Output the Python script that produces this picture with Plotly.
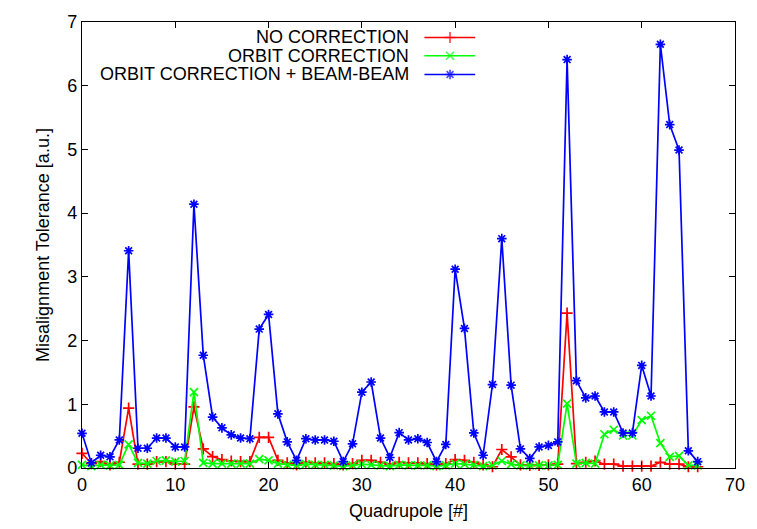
import plotly.graph_objects as go

quadrupole = list(range(67))

no_correction = [
    0.23, 0.07, 0.10, 0.05, 0.09, 0.94, 0.06, 0.06, 0.10, 0.10,
    0.06, 0.06, 0.96, 0.30, 0.18, 0.13, 0.11, 0.10, 0.10, 0.48,
    0.48, 0.12, 0.08, 0.05, 0.09, 0.08, 0.08, 0.07, 0.05, 0.07,
    0.12, 0.12, 0.09, 0.06, 0.09, 0.08, 0.08, 0.07, 0.05, 0.07,
    0.13, 0.12, 0.09, 0.05, 0.02, 0.29, 0.175, 0.05, 0.04, 0.04,
    0.05, 0.06, 2.43, 0.07, 0.09, 0.11, 0.06, 0.06, 0.03, 0.03,
    0.03, 0.03, 0.09, 0.06, 0.06, 0.02, 0.02,
]

orbit_correction = [
    0.05, 0.03, 0.05, 0.04, 0.05, 0.37, 0.08, 0.07, 0.11, 0.12,
    0.10, 0.11, 1.19, 0.08, 0.07, 0.07, 0.07, 0.07, 0.07, 0.14,
    0.12, 0.07, 0.05, 0.04, 0.06, 0.05, 0.05, 0.04, 0.03, 0.04,
    0.06, 0.05, 0.04, 0.03, 0.05, 0.04, 0.04, 0.04, 0.03, 0.04,
    0.07, 0.06, 0.05, 0.03, 0.04, 0.11, 0.06, 0.04, 0.04, 0.04,
    0.04, 0.05, 1.01, 0.07, 0.08, 0.07, 0.53, 0.60, 0.51, 0.51,
    0.75, 0.82, 0.39, 0.175, 0.19, 0.04, 0.04,
]

orbit_beam_beam = [
    0.545, 0.08, 0.20, 0.175, 0.44, 3.41, 0.31, 0.31, 0.47, 0.47,
    0.33, 0.33, 4.14, 1.77, 0.80, 0.63, 0.52, 0.47, 0.46, 2.18,
    2.41, 0.85, 0.41, 0.12, 0.46, 0.44, 0.44, 0.42, 0.10, 0.38,
    1.19, 1.35, 0.47, 0.165, 0.555, 0.44, 0.46, 0.40, 0.10, 0.37,
    3.12, 2.19, 0.55, 0.20, 1.31, 3.60, 1.30, 0.30, 0.15, 0.33,
    0.355, 0.41, 6.41, 1.37, 1.10, 1.13, 0.88, 0.88, 0.55, 0.55,
    1.61, 1.13, 6.65, 5.39, 4.99, 0.27, 0.10,
]

series_names = ["NO CORRECTION", "ORBIT CORRECTION", "ORBIT CORRECTION + BEAM-BEAM"]
series_colors = ["#ff0000", "#00ff00", "#0000ff"]
series_symbols = ["cross-thin", "x-thin", "asterisk"]
series_values = [no_correction, orbit_correction, orbit_beam_beam]

x_ticks = [0, 10, 20, 30, 40, 50, 60, 70]
y_ticks = [0, 1, 2, 3, 4, 5, 6, 7]

FONT = "Liberation Sans, Arial, Helvetica, sans-serif"

fig = go.Figure()
for name, color, sym, vals in zip(series_names, series_colors, series_symbols, series_values):
    fig.add_trace(go.Scatter(
        x=quadrupole, y=vals, name=name, mode="lines+markers",
        line=dict(color=color, width=1.7),
        marker=dict(symbol=sym, size=8, color=color, line=dict(color=color, width=1.7)),
        cliponaxis=False, showlegend=False,
    ))

# gnuplot-style key (text right-aligned, sample to the right)
key_text_x = 0.504
key_line = [0.5244, 0.5636, 0.6021]
key_rows = [0.9653, 0.9243, 0.8823]
for name, color, sym, ry in zip(series_names, series_colors, series_symbols, key_rows):
    fig.add_annotation(
        x=key_text_x, y=ry, xref="paper", yref="paper", text=name,
        showarrow=False, xanchor="right", yanchor="middle",
        font=dict(family=FONT, size=18, color="black"),
    )
    fig.add_trace(go.Scatter(
        x=key_line, y=[ry] * 3, xaxis="x2", yaxis="y2", mode="lines+markers",
        line=dict(color=color, width=1.7),
        marker=dict(symbol=sym, size=[0, 8, 0], color=color, line=dict(color=color, width=1.7)),
        showlegend=False, hoverinfo="skip", cliponaxis=False,
    ))

axis_common = dict(
    showgrid=False, zeroline=False, showline=True, linecolor="black", linewidth=1.2,
    mirror="allticks", ticks="inside", ticklen=6, tickwidth=1, tickcolor="black",
    tickfont=dict(family=FONT, size=18, color="black"),
)

fig.update_layout(
    width=757, height=529,
    margin=dict(l=82, r=19, t=15, b=61),
    paper_bgcolor="white", plot_bgcolor="white",
    font=dict(family=FONT, size=18, color="black"),
    xaxis=dict(range=[0, 70], tickvals=x_ticks, **axis_common,
               title=dict(text="Quadrupole [#]", font=dict(family=FONT, size=18), standoff=10)),
    yaxis=dict(range=[0, 7], tickvals=y_ticks, **axis_common,
               title=dict(text="Misalignment Tolerance [a.u.]", font=dict(family=FONT, size=18), standoff=12)),
    xaxis2=dict(range=[0, 1], overlaying="x", visible=False),
    yaxis2=dict(range=[0, 1], overlaying="y", visible=False),
)

fig.write_html("out.html")
